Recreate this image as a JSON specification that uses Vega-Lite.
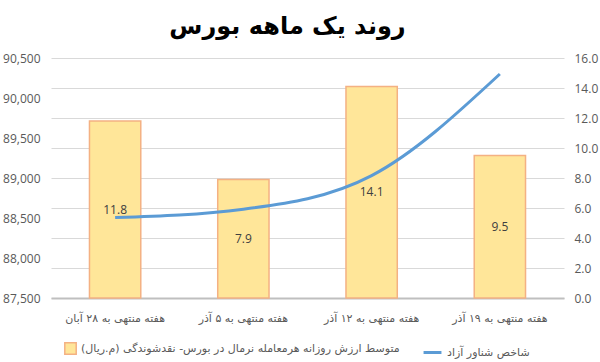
{
  "$schema": "https://vega.github.io/schema/vega-lite/v6.json",
  "width": 513,
  "height": 240,
  "autosize": {"type": "none"},
  "padding": {"left": 51, "top": 58, "right": 36, "bottom": 64},
  "background": "white",
  "title": {
    "text": "روند یک ماهه بورس",
    "fontSize": 24,
    "fontWeight": "bold",
    "font": "DejaVu Sans",
    "color": "black",
    "anchor": "middle",
    "dx": -20,
    "offset": 13
  },
  "config": {
    "view": {"stroke": null},
    "axis": {"labelFont": "Open Sans", "labelColor": "#595959", "labelFontSize": 12, "ticks": false, "domain": false, "title": null},
    "legend": {"labelFont": "DejaVu Sans", "labelColor": "#595959", "labelFontSize": 11, "labelLimit": 400}
  },
  "data": {
    "values": [
      {"week": "هفته منتهی به ۲۸ آبان", "value": 11.8, "index": 88505},
      {"week": "هفته منتهی به ۵ آذر", "value": 7.9, "index": 88610},
      {"week": "هفته منتهی به ۱۲ آذر", "value": 14.1, "index": 89030},
      {"week": "هفته منتهی به ۱۹ آذر", "value": 9.5, "index": 90300}
    ]
  },
  "encoding": {
    "x": {
      "field": "week",
      "type": "nominal",
      "sort": null,
      "scale": {"paddingInner": 0.6, "paddingOuter": 0.3},
      "axis": {
        "labelAngle": 0,
        "domain": true,
        "domainColor": "#BFBFBF",
        "domainWidth": 2,
        "labelPadding": 14,
        "labelFont": "DejaVu Sans",
        "labelFontSize": 11
      }
    }
  },
  "layer": [
    {
      "mark": {"type": "bar", "stroke": "#F4B183", "strokeWidth": 1.5},
      "encoding": {
        "y": {
          "field": "value",
          "type": "quantitative",
          "scale": {"domain": [0, 16], "nice": false},
          "axis": {
            "orient": "right",
            "values": [0, 2, 4, 6, 8, 10, 12, 14, 16],
            "format": ".1f",
            "grid": true,
            "gridColor": "#D9D9D9",
            "labelPadding": 10
          }
        },
        "fill": {
          "datum": "متوسط ارزش روزانه هرمعامله نرمال در بورس- نقدشوندگی (م.ریال)",
          "scale": {"range": ["#FFE699"]},
          "legend": {
            "title": null,
            "orient": "none",
            "legendX": 13,
            "legendY": 284,
            "symbolType": "square",
            "symbolSize": 130,
            "symbolStrokeColor": "#F4B183",
            "symbolStrokeWidth": 1.5
          }
        }
      }
    },
    {
      "transform": [{"calculate": "datum.value / 2", "as": "mid"}],
      "mark": {"type": "text", "font": "Open Sans", "fontSize": 12, "color": "#404040", "baseline": "middle"},
      "encoding": {
        "y": {"field": "mid", "type": "quantitative", "scale": {"domain": [0, 16], "nice": false}, "axis": null},
        "text": {"field": "value", "type": "quantitative", "format": ".1f"}
      }
    },
    {
      "mark": {"type": "line", "interpolate": "monotone", "strokeWidth": 3},
      "encoding": {
        "y": {
          "field": "index",
          "type": "quantitative",
          "scale": {"domain": [87500, 90500], "nice": false, "zero": false},
          "axis": {
            "orient": "left",
            "values": [87500, 88000, 88500, 89000, 89500, 90000, 90500],
            "format": ",.0f",
            "grid": false,
            "labelPadding": 11
          }
        },
        "stroke": {
          "datum": "شاخص شناور آزاد",
          "scale": {"range": ["#5B9BD5"]},
          "legend": {
            "title": null,
            "orient": "none",
            "legendX": 371,
            "legendY": 284,
            "symbolType": "stroke",
            "symbolSize": 320,
            "symbolStrokeWidth": 3
          }
        }
      }
    }
  ],
  "resolve": {"scale": {"y": "independent"}}
}
